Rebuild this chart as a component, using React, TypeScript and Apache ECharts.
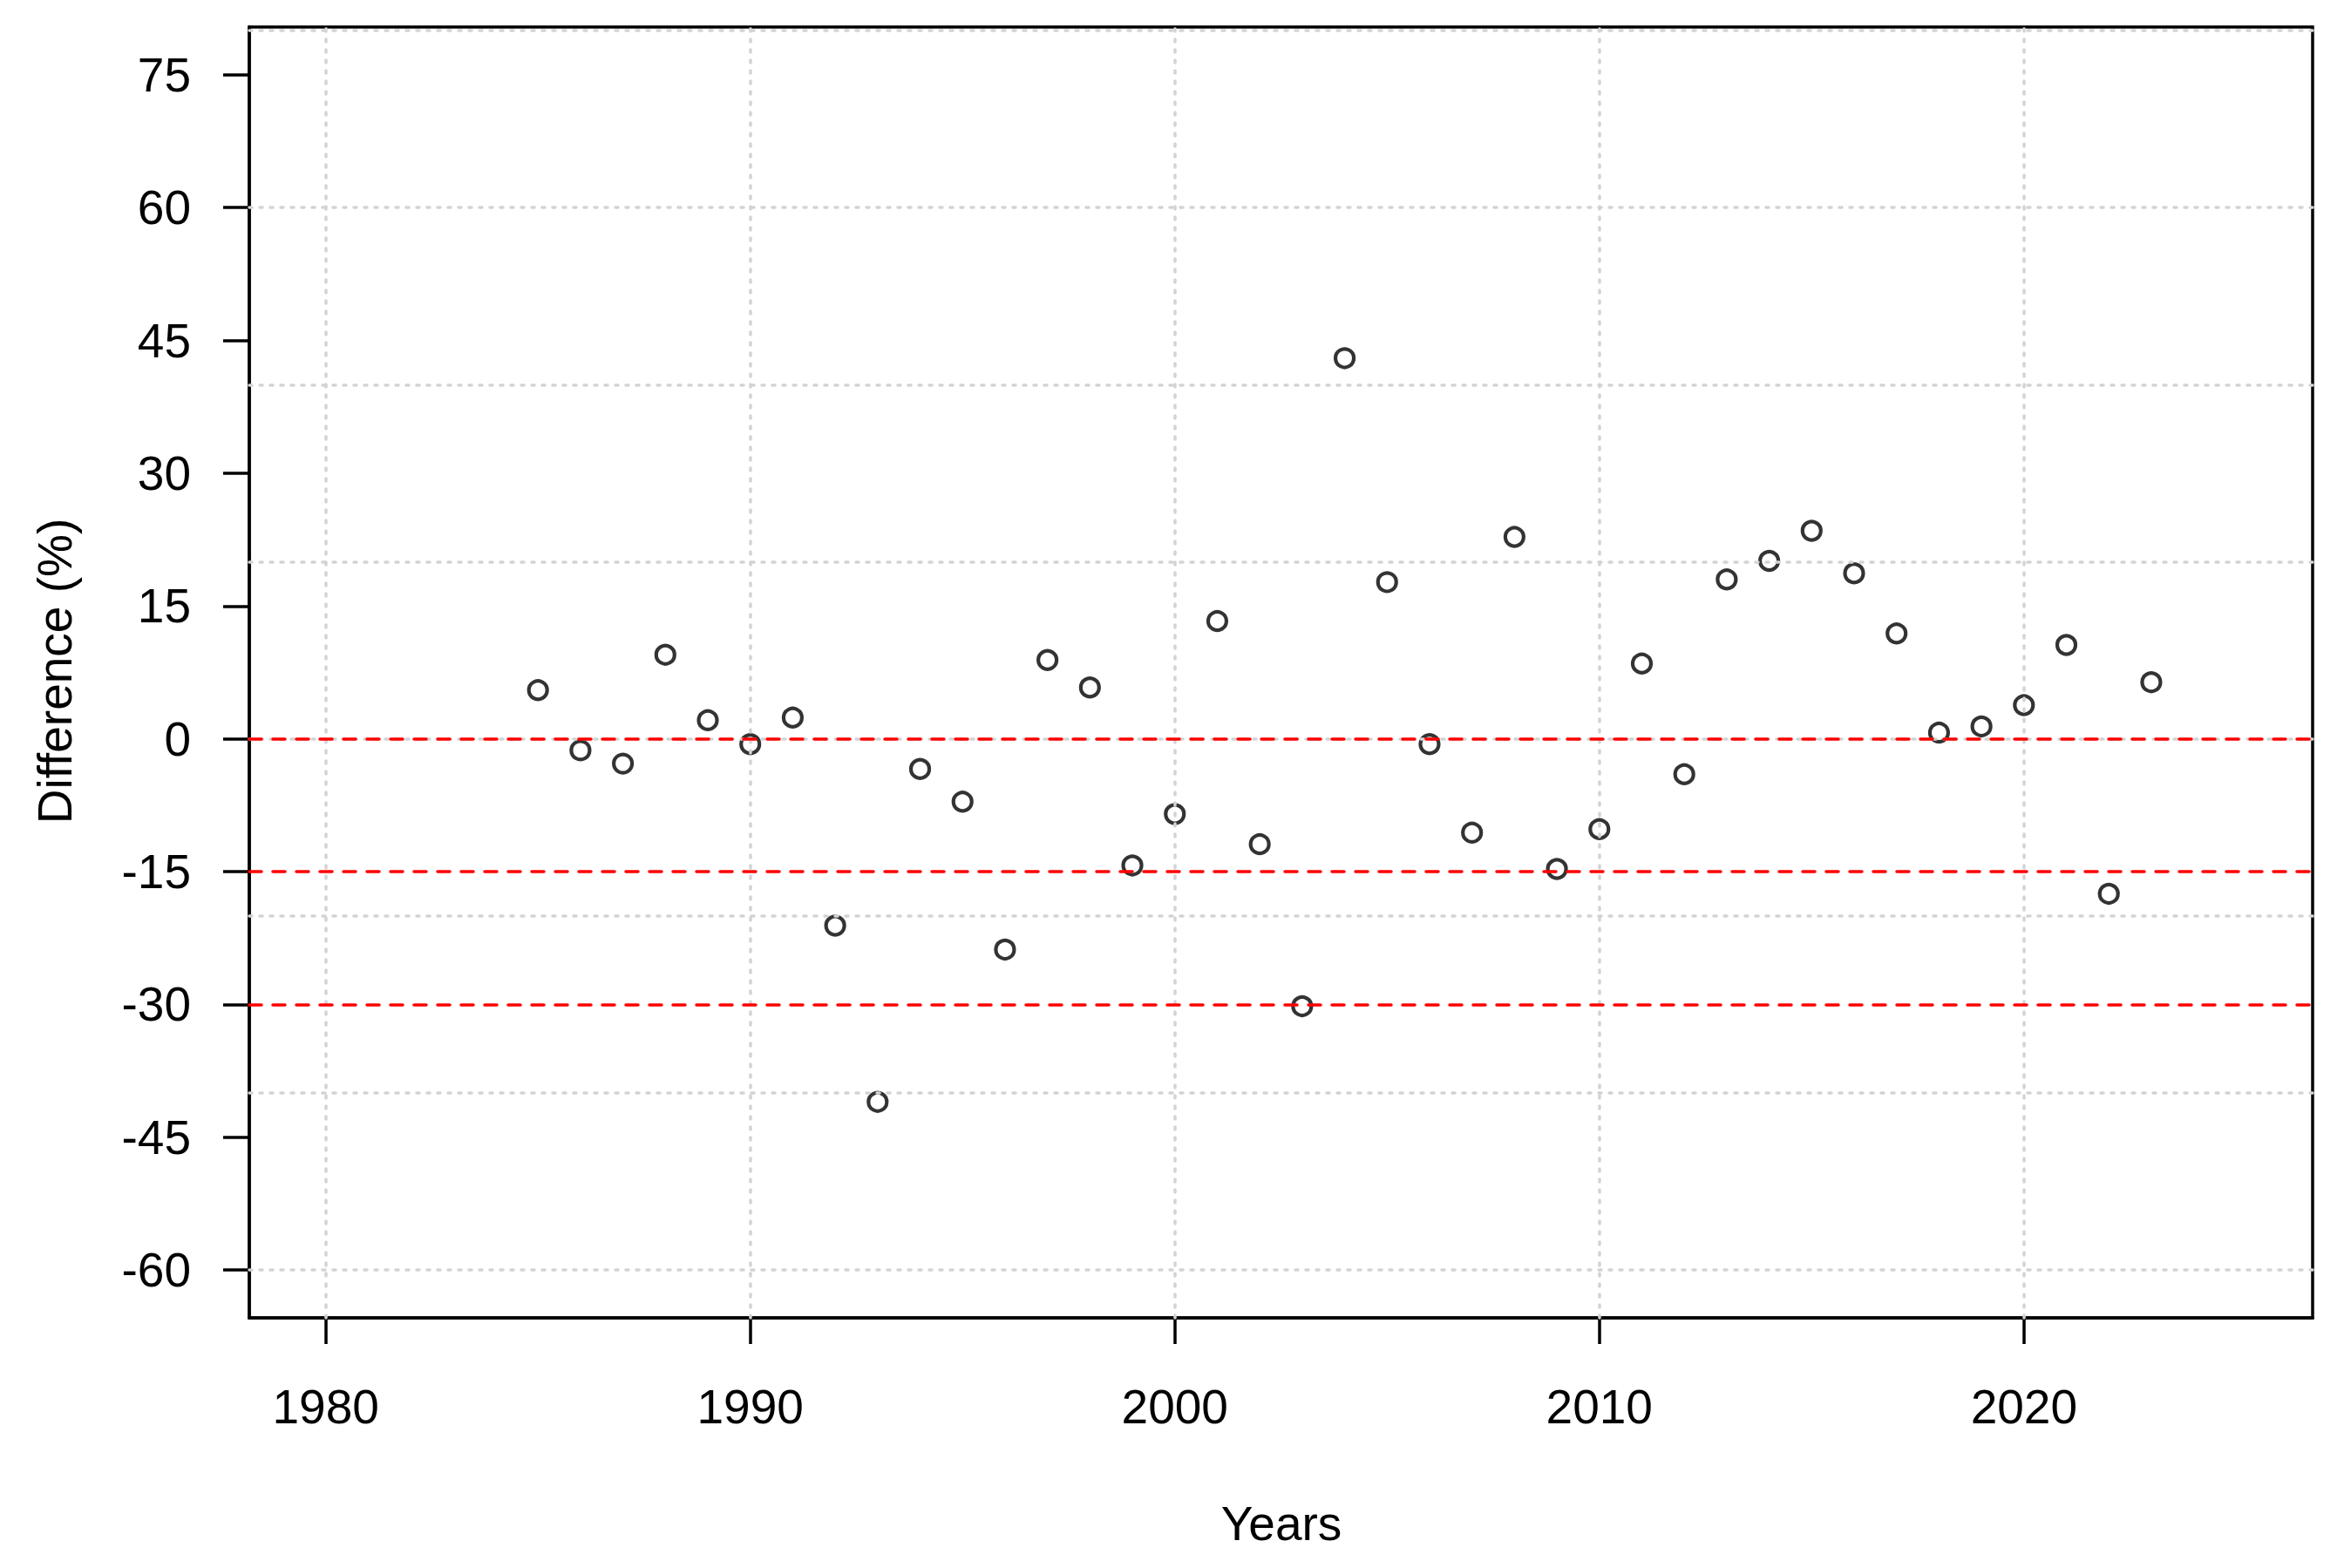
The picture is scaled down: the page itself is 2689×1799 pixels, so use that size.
import React, { useEffect, useRef } from "react";
import * as echarts from "echarts";

const years = [
  1985, 1986, 1987, 1988, 1989, 1990, 1991, 1992, 1993, 1994,
  1995, 1996, 1997, 1998, 1999, 2000, 2001, 2002, 2003, 2004,
  2005, 2006, 2007, 2008, 2009, 2010, 2011, 2012, 2013, 2014,
  2015, 2016, 2017, 2018, 2019, 2020, 2021, 2022, 2023,
];
const differences = [
  5.5, -1.3, -2.8, 9.5, 2.1, -0.6, 2.4, -21.1, -41.0, -3.4,
  -7.1, -23.8, 8.9, 5.8, -14.3, -8.5, 13.3, -11.9, -30.2, 43.0,
  17.7, -0.6, -10.6, 22.8, -14.7, -10.2, 8.5, -4.0, 18.0, 20.1,
  23.5, 18.7, 11.9, 0.7, 1.4, 3.8, 10.6, -17.5, 6.4,
];
const xTicks = [1980, 1990, 2000, 2010, 2020];
const yTicks = [-60, -45, -30, -15, 0, 15, 30, 45, 60, 75];
const xGridLines = [1980, 1990, 2000, 2010, 2020];
const yGridLines = [-60, -40, -20, 0, 20, 40, 60, 80];
const referenceLines = [0, -15, -30];

const FONT = "'Liberation Sans', Arial, Helvetica, sans-serif";
const W = 2689;
const H = 1799;

export default function App() {
  const ref = useRef<HTMLDivElement>(null);

  useEffect(() => {
    if (!ref.current) return;
    const chart = echarts.init(ref.current, null, { renderer: "svg" });

    const points = years.map((y, i) => [y, differences[i]]);

    chart.setOption({
      animation: false,
      backgroundColor: "#ffffff",
      grid: {
        left: 286,
        right: 36,
        top: 31,
        bottom: 287,
        show: true,
        borderColor: "#000000",
        borderWidth: 3.5,
        backgroundColor: "transparent",
      },
      xAxis: {
        type: "value",
        min: 1978.2,
        max: 2026.8,
        splitLine: { show: false },
        axisLine: { show: true, onZero: false, lineStyle: { color: "#000", width: 3.5 } },
        axisTick: {
          show: true,
          customValues: xTicks,
          length: 30,
          lineStyle: { color: "#000", width: 3.5 },
        },
        axisLabel: {
          customValues: xTicks,
          formatter: (v: number) => String(v),
          fontSize: 55,
          fontFamily: FONT,
          color: "#000",
          margin: 74,
        },
      },
      yAxis: {
        type: "value",
        min: -65.4,
        max: 80.4,
        splitLine: { show: false },
        axisLine: { show: true, onZero: false, lineStyle: { color: "#000", width: 3.5 } },
        axisTick: {
          show: true,
          customValues: yTicks,
          length: 30,
          lineStyle: { color: "#000", width: 3.5 },
        },
        axisLabel: {
          customValues: yTicks,
          formatter: (v: number) => String(v),
          fontSize: 55,
          fontFamily: FONT,
          color: "#000",
          margin: 67,
        },
      },
      graphic: [
        {
          type: "text",
          x: 1470,
          y: 1748,
          silent: true,
          style: {
            text: "Years",
            fontSize: 55,
            fontFamily: FONT,
            fill: "#000",
            align: "center",
            verticalAlign: "middle",
            textAlign: "center",
            textVerticalAlign: "middle",
          },
        },
        {
          type: "text",
          x: 63,
          y: 770,
          rotation: Math.PI / 2,
          silent: true,
          style: {
            text: "Difference (%)",
            fontSize: 55,
            fontFamily: FONT,
            fill: "#000",
            align: "center",
            verticalAlign: "middle",
            textAlign: "center",
            textVerticalAlign: "middle",
          },
        },
      ],
      series: [
        {
          type: "line",
          data: [],
          z: 1,
          silent: true,
          markLine: {
            silent: true,
            symbol: ["none", "none"],
            label: { show: false },
            emphasis: { disabled: true },
            lineStyle: { color: "#d3d3d3", type: [3, 9], width: 3.5, cap: "round" },
            data: [
              ...xGridLines.map((v) => ({ xAxis: v })),
              ...yGridLines.map((v) => ({ yAxis: v })),
            ],
          },
        },
        {
          type: "line",
          data: [],
          z: 2,
          silent: true,
          markLine: {
            silent: true,
            symbol: ["none", "none"],
            label: { show: false },
            emphasis: { disabled: true },
            lineStyle: { color: "#ff0000", type: [14, 13], width: 3.5, cap: "round" },
            data: referenceLines.map((v) => ({ yAxis: v })),
          },
        },
        {
          type: "scatter",
          z: 3,
          data: points,
          symbol: "circle",
          symbolSize: 21,
          itemStyle: {
            color: "rgba(0,0,0,0)",
            borderColor: "#000000",
            borderWidth: 4.2,
          },
        },
      ],
    });

    return () => {
      chart.dispose();
    };
  }, []);

  return (
    <div
      ref={ref}
      style={{ position: "fixed", left: 0, top: 0, width: W, height: H, background: "#fff" }}
    />
  );
}
